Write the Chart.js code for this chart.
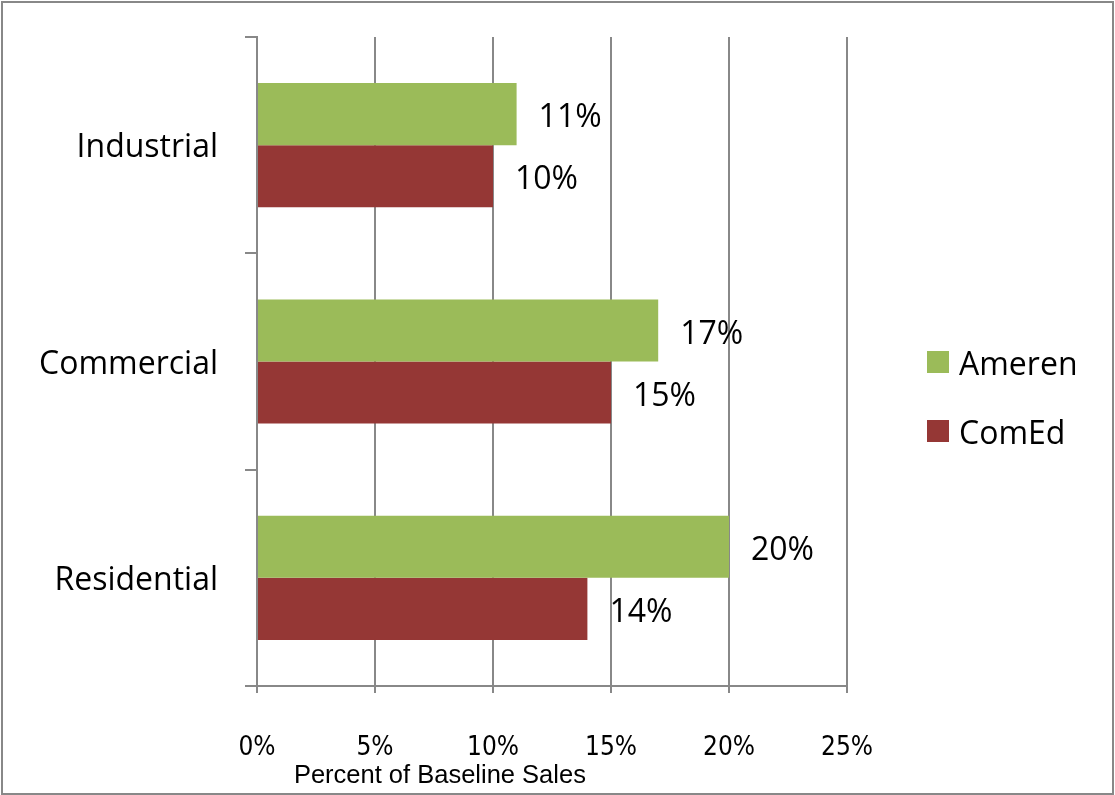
<!DOCTYPE html>
<html>
<head>
<meta charset="utf-8">
<script src="https://cdn.jsdelivr.net/npm/chart.js@4/dist/chart.umd.min.js"></script>
<style>
  html, body { margin: 0; padding: 0; background: #fff; }
  #wrap { width: 1115px; height: 795px; }
</style>
</head>
<body>
<div id="wrap"><canvas id="c" width="1115" height="795"></canvas></div>
<script>
const categories = ['Industrial', 'Commercial', 'Residential'];
const seriesNames = ['Ameren', 'ComEd'];
const amerenValues = [11, 17, 20];
const comedValues = [10, 15, 14];
const xTickValues = [0, 5, 10, 15, 20, 25];
const xAxisTitle = 'Percent of Baseline Sales';

const GREEN = '#9BBB59';
const RED = '#953735';
const GRID = '#888888';
const LABEL_FONT = "'Open Sans', 'Noto Sans', sans-serif";

const framePlugin = {
  id: 'frame',
  beforeDraw(chart) {
    const ctx = chart.ctx;
    ctx.save();
    ctx.fillStyle = '#ffffff';
    ctx.fillRect(0, 0, chart.width, chart.height);
    ctx.strokeStyle = GRID;
    ctx.lineWidth = 2;
    ctx.strokeRect(2, 2, chart.width - 4, chart.height - 3);
    ctx.restore();
  }
};

const valueLabelPlugin = {
  id: 'valueLabels',
  afterDatasetsDraw(chart) {
    const ctx = chart.ctx;
    ctx.save();
    ctx.font = '32px ' + LABEL_FONT;
    ctx.fillStyle = '#000';
    ctx.textAlign = 'left';
    ctx.textBaseline = 'middle';
    chart.data.datasets.forEach((ds, di) => {
      const meta = chart.getDatasetMeta(di);
      meta.data.forEach((bar, i) => {
        ctx.fillText(ds.data[i] + '%', bar.x + 22, bar.y + 4);
      });
    });
    ctx.restore();
  }
};

const axisTitlePlugin = {
  id: 'axisTitle',
  afterDraw(chart) {
    const ctx = chart.ctx;
    const xs = chart.scales.x;
    ctx.save();
    ctx.font = "25.5px 'Liberation Sans', Arial, sans-serif";
    ctx.fillStyle = '#000';
    ctx.textAlign = 'center';
    ctx.textBaseline = 'alphabetic';
    // title sits left of the axis centre, as in the reference
    const cx = xs.getPixelForValue(7.75);
    ctx.fillText(xAxisTitle, cx, xs.bottom - 12);
    ctx.restore();
  }
};

const legendPlugin = {
  id: 'customLegend',
  afterDraw(chart) {
    const ctx = chart.ctx;
    ctx.save();
    ctx.font = '32px ' + LABEL_FONT;
    ctx.textAlign = 'left';
    ctx.textBaseline = 'middle';
    const startY = 362, step = 69;
    chart.data.datasets.forEach((ds, i) => {
      const cy = startY + i * step;
      ctx.fillStyle = ds.backgroundColor;
      ctx.fillRect(927, cy - 11, 22, 22);
      ctx.fillStyle = '#000';
      ctx.fillText(ds.label, 959, cy + 4);
    });
    ctx.restore();
  }
};

new Chart(document.getElementById('c'), {
  type: 'bar',
  data: {
    labels: categories,
    datasets: [
      { label: seriesNames[0], data: amerenValues, backgroundColor: GREEN,
        categoryPercentage: 0.574, barPercentage: 1.0 },
      { label: seriesNames[1], data: comedValues, backgroundColor: RED,
        categoryPercentage: 0.574, barPercentage: 1.0 }
    ]
  },
  options: {
    indexAxis: 'y',
    responsive: false,
    animation: false,
    devicePixelRatio: 1,
    layout: { padding: { top: 37, left: 0, right: 268, bottom: 0 } },
    plugins: {
      legend: { display: false },
      tooltip: { enabled: false }
    },
    scales: {
      x: {
        min: 0, max: 25,
        afterBuildTicks(scale) { scale.ticks = xTickValues.map(v => ({ value: v })); },
        afterFit(scale) {
          scale.height = 795 - 686;
          scale.paddingLeft = 0; scale.paddingRight = 0;
        },
        grid: { color: GRID, lineWidth: 2, tickLength: 7, drawOnChartArea: true },
        border: { color: GRID, width: 2 },
        ticks: {
          color: '#000',
          padding: 40,
          maxRotation: 0,
          font: { family: "'DejaVu Sans Condensed', 'Liberation Sans', sans-serif", size: 26 },
          callback: v => v + '%'
        }
      },
      y: {
        afterFit(scale) {
          scale.width = 257;
          scale.paddingTop = 0; scale.paddingBottom = 0;
        },
        grid: { color: GRID, lineWidth: 2, tickLength: 12, drawOnChartArea: false, offset: true },
        border: { color: GRID, width: 2 },
        ticks: {
          color: '#000',
          padding: 27,
          labelOffset: 3,
          font: { family: LABEL_FONT, size: 32 }
        }
      }
    }
  },
  plugins: [framePlugin, valueLabelPlugin, axisTitlePlugin, legendPlugin]
});
</script>
</body>
</html>
